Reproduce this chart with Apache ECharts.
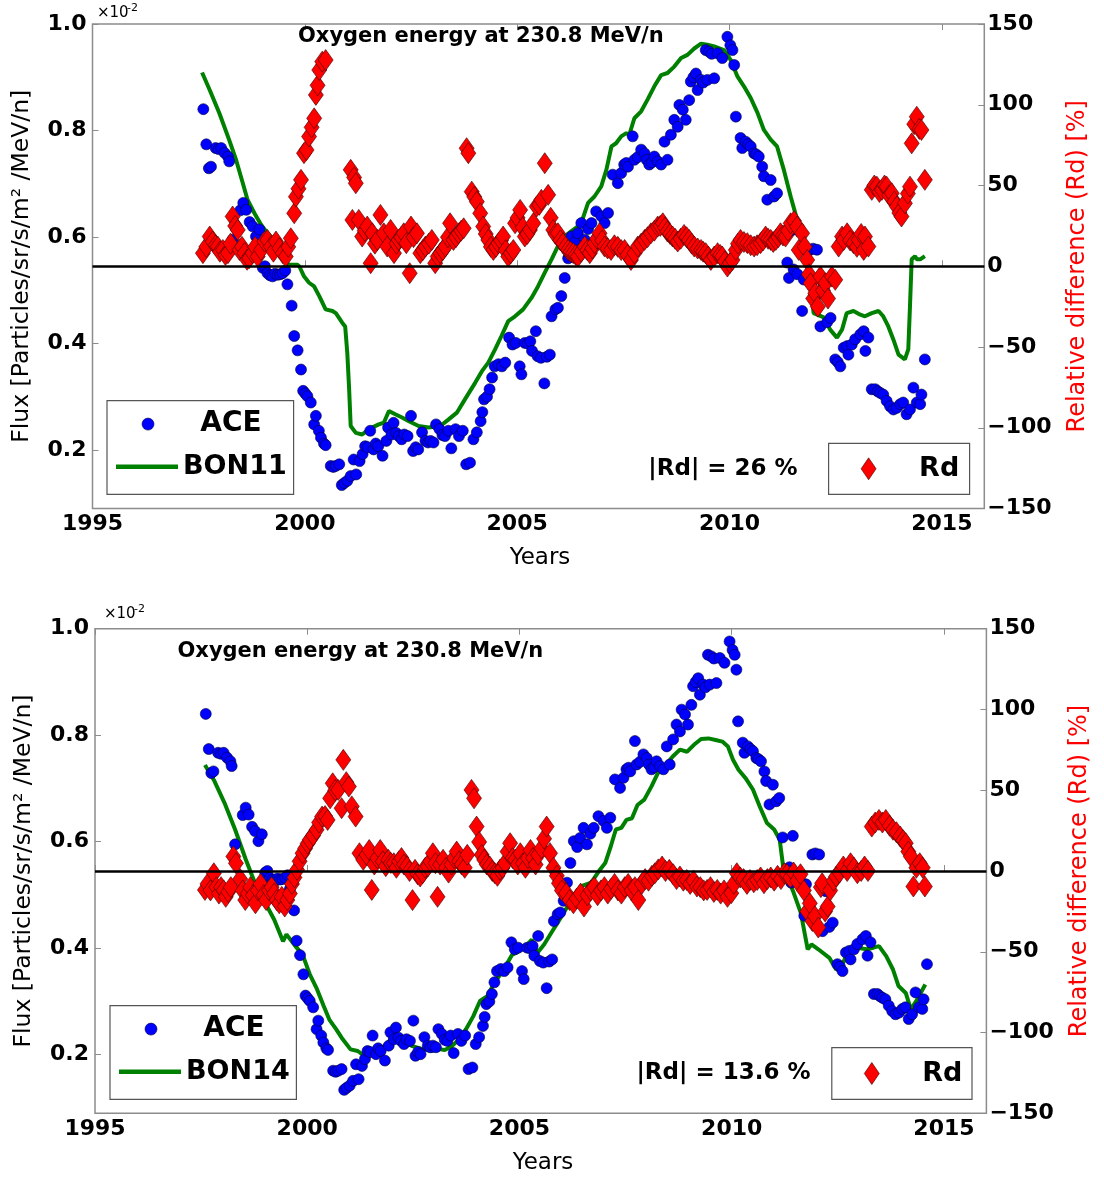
<!DOCTYPE html>
<html><head><meta charset="utf-8">
<script src="https://cdn.jsdelivr.net/npm/echarts@6/dist/echarts.min.js"></script>
<style>html,body{margin:0;padding:0;background:#fff}#c{width:1104px;height:1177px}</style>
</head><body><div id="c"></div>
<script>
// ---------------- DATA ----------------
const xTicks = [1995, 2000, 2005, 2010, 2015];
const fluxTicks = [0.2, 0.4, 0.6, 0.8, 1.0];
const rdTicks = [-150, -100, -50, 0, 50, 100, 150];

// ACE observed flux (x10^-2), same in both panels
const aceData = [
[1997.61,0.840],[1997.68,0.774],[1997.74,0.729],[1997.79,0.732],[1997.90,0.767],[1997.97,0.765],[1998.03,0.767],[1998.11,0.758],[1998.19,0.751],[1998.22,0.742],
[1998.30,0.595],[1998.48,0.650],[1998.55,0.664],[1998.62,0.651],[1998.70,0.628],[1998.77,0.620],[1998.85,0.601],[1998.93,0.614],[1999.01,0.542],[1999.06,0.545],
[1999.12,0.532],[1999.18,0.528],[1999.24,0.526],[1999.30,0.531],[1999.36,0.529],[1999.42,0.530],[1999.48,0.532],[1999.54,0.537],[1999.59,0.511],[1999.69,0.471],
[1999.75,0.414],[1999.83,0.387],[1999.91,0.351],[1999.96,0.311],[2000.01,0.306],[2000.06,0.301],[2000.14,0.289],[2000.22,0.248],[2000.26,0.264],[2000.33,0.236],
[2000.38,0.223],[2000.45,0.212],[2000.49,0.209],[2000.61,0.170],[2000.67,0.168],[2000.73,0.170],[2000.81,0.173],[2000.87,0.134],[2000.93,0.138],[2001.00,0.142],
[2001.08,0.151],[2001.15,0.182],[2001.21,0.154],[2001.29,0.179],[2001.36,0.192],[2001.42,0.207],[2001.48,0.205],[2001.54,0.236],[2001.62,0.201],[2001.67,0.212],
[2001.73,0.207],[2001.83,0.189],[2001.92,0.217],[2001.96,0.242],[2002.04,0.229],[2002.09,0.251],[2002.15,0.232],[2002.21,0.226],[2002.28,0.220],[2002.34,0.229],
[2002.42,0.226],[2002.50,0.264],[2002.55,0.198],[2002.61,0.205],[2002.67,0.201],[2002.76,0.233],[2002.84,0.217],[2002.90,0.214],[2002.96,0.217],[2003.03,0.214],
[2003.09,0.248],[2003.17,0.239],[2003.24,0.228],[2003.30,0.226],[2003.38,0.236],[2003.45,0.203],[2003.55,0.239],[2003.63,0.226],[2003.72,0.236],[2003.80,0.173],
[2003.89,0.176],[2003.97,0.220],[2004.05,0.233],[2004.14,0.254],[2004.18,0.271],[2004.22,0.295],[2004.29,0.300],[2004.35,0.314],[2004.41,0.336],[2004.47,0.357],
[2004.56,0.361],[2004.64,0.357],[2004.72,0.364],[2004.81,0.411],[2004.89,0.398],[2004.97,0.401],[2005.06,0.357],[2005.10,0.342],[2005.18,0.401],[2005.25,0.400],
[2005.31,0.404],[2005.35,0.386],[2005.44,0.423],[2005.48,0.376],[2005.56,0.373],[2005.64,0.325],[2005.70,0.375],[2005.77,0.379],[2005.81,0.451],[2005.90,0.464],
[2005.96,0.467],[2006.04,0.489],[2006.12,0.523],[2006.20,0.560],[2006.28,0.601],[2006.36,0.590],[2006.43,0.607],[2006.51,0.626],[2006.59,0.595],[2006.67,0.615],
[2006.75,0.626],[2006.86,0.648],[2006.98,0.639],[2007.06,0.626],[2007.14,0.645],[2007.25,0.717],[2007.37,0.701],[2007.45,0.720],[2007.52,0.736],[2007.57,0.739],
[2007.61,0.732],[2007.72,0.789],[2007.76,0.745],[2007.84,0.750],[2007.92,0.764],[2008.00,0.757],[2008.05,0.745],[2008.11,0.736],[2008.17,0.740],[2008.23,0.751],
[2008.31,0.742],[2008.39,0.736],[2008.47,0.779],[2008.54,0.745],[2008.62,0.792],[2008.70,0.820],[2008.78,0.807],[2008.82,0.848],[2008.90,0.839],[2008.97,0.820],
[2009.05,0.857],[2009.09,0.892],[2009.15,0.900],[2009.21,0.907],[2009.25,0.876],[2009.33,0.895],[2009.38,0.890],[2009.44,0.951],[2009.48,0.895],[2009.52,0.948],
[2009.58,0.944],[2009.64,0.898],[2009.72,0.945],[2009.83,0.936],[2009.95,0.976],[2010.02,0.960],[2010.07,0.951],[2010.11,0.923],[2010.15,0.826],[2010.26,0.786],
[2010.30,0.767],[2010.38,0.779],[2010.44,0.774],[2010.50,0.770],[2010.58,0.757],[2010.63,0.755],[2010.69,0.751],[2010.77,0.732],[2010.81,0.714],[2010.89,0.670],
[2010.97,0.707],[2011.05,0.676],[2011.12,0.682],[2011.20,0.608],[2011.36,0.552],[2011.40,0.523],[2011.44,0.611],[2011.51,0.539],[2011.60,0.530],[2011.71,0.461],
[2011.75,0.520],[2011.90,0.576],[2011.97,0.578],[2012.06,0.576],[2012.14,0.432],[2012.22,0.507],[2012.30,0.440],[2012.38,0.448],[2012.49,0.370],[2012.55,0.365],
[2012.61,0.357],[2012.69,0.392],[2012.77,0.395],[2012.80,0.379],[2012.88,0.398],[2012.96,0.408],[2013.08,0.417],[2013.16,0.423],[2013.20,0.386],[2013.27,0.411],
[2013.35,0.314],[2013.43,0.314],[2013.49,0.310],[2013.55,0.307],[2013.62,0.304],[2013.70,0.292],[2013.78,0.282],[2013.86,0.276],[2013.94,0.279],[2014.02,0.286],
[2014.09,0.289],[2014.17,0.267],[2014.25,0.276],[2014.33,0.317],[2014.41,0.289],[2014.49,0.286],[2014.52,0.304],[2014.60,0.370]
];

// BON11 model flux (top panel)
const bon11Data = [
[1997.58,0.909],[1997.76,0.876],[1997.99,0.832],[1998.22,0.782],[1998.38,0.745],[1998.54,0.701],[1998.65,0.670],[1998.81,0.645],[1998.97,0.623],[1999.12,0.607],
[1999.28,0.595],[1999.45,0.565],[1999.62,0.548],[1999.82,0.548],[1999.87,0.545],[1999.98,0.526],[2000.10,0.514],[2000.22,0.507],[2000.34,0.489],[2000.49,0.464],
[2000.65,0.461],[2000.73,0.457],[2000.88,0.439],[2000.95,0.432],[2001.00,0.382],[2001.04,0.320],[2001.08,0.245],[2001.20,0.232],[2001.35,0.229],[2001.51,0.239],
[2001.74,0.248],[2001.86,0.251],[2001.98,0.273],[2002.13,0.267],[2002.29,0.261],[2002.45,0.254],[2002.68,0.245],[2002.91,0.242],[2003.19,0.245],[2003.38,0.257],
[2003.58,0.270],[2003.77,0.295],[2004.01,0.326],[2004.17,0.348],[2004.32,0.364],[2004.48,0.389],[2004.63,0.414],[2004.79,0.442],[2004.95,0.451],[2005.14,0.464],
[2005.34,0.486],[2005.49,0.507],[2005.65,0.533],[2005.81,0.558],[2005.96,0.583],[2006.12,0.601],[2006.28,0.611],[2006.43,0.620],[2006.55,0.636],[2006.67,0.664],
[2006.82,0.676],[2006.98,0.695],[2007.10,0.726],[2007.22,0.770],[2007.33,0.776],[2007.45,0.789],[2007.57,0.795],[2007.64,0.792],[2007.76,0.823],[2007.92,0.836],
[2008.07,0.858],[2008.23,0.883],[2008.39,0.904],[2008.54,0.908],[2008.70,0.920],[2008.86,0.936],[2009.01,0.942],[2009.17,0.954],[2009.33,0.963],[2009.48,0.961],
[2009.64,0.958],[2009.87,0.951],[2010.03,0.932],[2010.19,0.901],[2010.34,0.883],[2010.50,0.861],[2010.66,0.833],[2010.81,0.801],[2010.97,0.783],[2011.12,0.770],
[2011.28,0.726],[2011.44,0.676],[2011.59,0.633],[2011.71,0.601],[2011.83,0.551],[2011.91,0.514],[2011.98,0.457],[2012.22,0.449],[2012.37,0.426],[2012.53,0.411],
[2012.65,0.426],[2012.76,0.457],[2012.92,0.461],[2013.08,0.454],[2013.19,0.451],[2013.35,0.457],[2013.51,0.461],[2013.62,0.451],[2013.74,0.432],[2013.86,0.407],
[2013.98,0.379],[2014.13,0.370],[2014.21,0.389],[2014.25,0.470],[2014.29,0.558],[2014.37,0.564],[2014.41,0.558],[2014.49,0.558],[2014.60,0.564]
];

// Relative difference ACE vs BON11 (%)
const rd11Data = [
[1997.60,8.1],[1997.68,12],[1997.76,18.4],[1997.83,15.3],[1997.90,13],[1997.95,12.2],[1998.00,9],[1998.07,10.1],[1998.13,7],[1998.19,8.1],
[1998.25,14],[1998.30,30.8],[1998.36,25],[1998.42,22.5],[1998.46,10.1],[1998.52,12],[1998.58,8.1],[1998.64,4],[1998.69,5.0],[1998.77,8.1],
[1998.83,12],[1998.89,6.0],[1998.97,10.1],[1999.05,15.3],[1999.12,16.3],[1999.20,12.2],[1999.26,9],[1999.32,15.3],[1999.40,11.2],[1999.48,8.1],
[1999.55,6.0],[1999.61,12],[1999.67,17.3],[1999.75,32.8],[1999.79,43.1],[1999.85,48],[1999.91,53.5],[1999.98,70.0],[2000.04,72],[2000.10,80.3],
[2000.16,86],[2000.22,91.6],[2000.26,106.1],[2000.30,112],[2000.34,121.5],[2000.41,126.7],[2000.49,127.7],[2000.58,172],[2000.66,176],[2000.74,171],
[2000.82,168],[2000.90,228],[2000.97,215],[2001.03,170],[2001.08,59.7],[2001.12,28.7],[2001.16,55],[2001.20,51.4],[2001.27,28.7],[2001.35,18.4],
[2001.41,22],[2001.47,24.6],[2001.55,1.9],[2001.59,20.4],[2001.65,14],[2001.71,16.3],[2001.78,31.8],[2001.86,20.4],[2001.94,12.2],[2002.02,22.5],
[2002.10,8.1],[2002.16,14],[2002.21,16.3],[2002.27,18],[2002.33,20.4],[2002.39,14.3],[2002.47,-4.3],[2002.50,24.6],[2002.56,18],[2002.64,20.4],
[2002.72,8.1],[2002.78,10],[2002.84,12.2],[2002.92,14],[2002.99,16.3],[2003.07,1.9],[2003.13,6],[2003.19,8.1],[2003.25,10],[2003.31,12.2],
[2003.37,18],[2003.42,26.6],[2003.50,16.3],[2003.56,18],[2003.62,20.4],[2003.68,22],[2003.74,23.5],[2003.81,73.1],[2003.85,70],[2003.93,46.2],
[2003.99,43],[2004.05,40.0],[2004.13,32.8],[2004.20,24.6],[2004.26,20],[2004.32,16.3],[2004.38,12],[2004.44,10.1],[2004.50,12],[2004.56,14.3],
[2004.62,16],[2004.67,18.4],[2004.73,10],[2004.79,6.0],[2004.85,8],[2004.91,10.1],[2004.95,26.6],[2005.01,30],[2005.07,34.9],[2005.13,24],
[2005.18,18.4],[2005.24,20],[2005.30,22.5],[2005.38,26.6],[2005.46,37.0],[2005.52,38],[2005.57,41.1],[2005.65,63.8],[2005.73,44.2],[2005.79,30],
[2005.85,22.5],[2005.90,20],[2005.96,20.4],[2006.02,16],[2006.08,14.3],[2006.14,12],[2006.20,10.1],[2006.26,9],[2006.32,8.1],[2006.38,7],
[2006.43,6.0],[2006.51,9],[2006.59,12.2],[2006.65,10],[2006.71,8.1],[2006.77,11],[2006.82,14.3],[2006.88,17],[2006.94,20.4],[2007.00,16],
[2007.06,12.2],[2007.13,11],[2007.21,10.1],[2007.29,13],[2007.37,12],[2007.45,10],[2007.53,10.1],[2007.60,7],[2007.68,3.9],[2007.76,8],
[2007.84,12.2],[2007.92,14],[2008.00,16.3],[2008.07,18],[2008.15,20.4],[2008.23,22],[2008.31,24.6],[2008.37,25],[2008.43,26.6],[2008.48,24],
[2008.54,21.5],[2008.60,20],[2008.66,18.4],[2008.72,17],[2008.78,15.3],[2008.85,17],[2008.93,19.4],[2008.99,18],[2009.05,16.3],[2009.11,14],
[2009.17,12.2],[2009.25,11],[2009.33,10.1],[2009.38,9],[2009.44,8.1],[2009.50,6],[2009.56,3.9],[2009.64,6],[2009.72,8.1],[2009.78,7],
[2009.83,6.0],[2009.89,3],[2009.95,-0.2],[2010.01,2],[2010.07,3.9],[2010.15,10.1],[2010.20,14],[2010.26,16.3],[2010.34,15],[2010.42,14.3],
[2010.50,13],[2010.58,12.2],[2010.65,13],[2010.73,14.3],[2010.79,16],[2010.85,18.4],[2010.91,17],[2010.97,16.3],[2011.03,15],[2011.09,16.3],
[2011.15,18],[2011.20,20.4],[2011.26,19],[2011.32,18.4],[2011.38,22],[2011.44,26.6],[2011.52,28],[2011.59,24.6],[2011.63,10.1],[2011.71,20.4],
[2011.77,12],[2011.83,3.9],[2011.87,-5],[2011.91,-10.5],[2011.97,-20],[2012.02,-16.7],[2012.08,-25],[2012.14,-6.4],[2012.20,-15],[2012.26,-10.5],
[2012.32,-20],[2012.41,-6.4],[2012.49,-8.4],[2012.57,12.2],[2012.65,18.4],[2012.69,16.3],[2012.77,20.4],[2012.84,16],[2012.92,14.3],[2013.00,12],
[2013.04,16.3],[2013.10,20],[2013.16,10.1],[2013.19,18.4],[2013.27,12.2],[2013.35,47.3],[2013.41,50],[2013.47,49.3],[2013.53,46],[2013.59,47.3],
[2013.65,50],[2013.70,49.3],[2013.76,44],[2013.82,45.2],[2013.88,40],[2013.94,37.0],[2014.00,33],[2014.05,30.8],[2014.13,39.0],[2014.20,45],
[2014.25,49.3],[2014.29,76.1],[2014.35,88],[2014.41,92.6],[2014.47,85],[2014.52,84.4],[2014.60,53.5]
];

// BON14 model flux (bottom panel)
const bon14Data = [
[1997.59,0.744],[1997.80,0.716],[1998.05,0.673],[1998.30,0.623],[1998.55,0.567],[1998.80,0.516],[1998.97,0.491],[1999.22,0.454],[1999.43,0.413],[1999.51,0.426],
[1999.72,0.404],[1999.89,0.388],[2000.06,0.351],[2000.23,0.323],[2000.39,0.291],[2000.52,0.266],[2000.68,0.248],[2000.81,0.232],[2001.02,0.210],[2001.19,0.207],
[2001.36,0.197],[2001.56,0.207],[2001.81,0.216],[2001.94,0.226],[2002.02,0.235],[2002.23,0.226],[2002.48,0.216],[2002.74,0.210],[2002.94,0.207],[2003.07,0.211],
[2003.24,0.209],[2003.41,0.216],[2003.57,0.229],[2003.74,0.248],[2003.91,0.272],[2004.07,0.301],[2004.24,0.310],[2004.41,0.335],[2004.58,0.354],[2004.83,0.388],
[2005.08,0.398],[2005.29,0.416],[2005.42,0.391],[2005.58,0.407],[2005.75,0.429],[2005.90,0.448],[2006.06,0.469],[2006.23,0.491],[2006.44,0.516],[2006.69,0.523],
[2006.90,0.548],[2007.02,0.560],[2007.15,0.591],[2007.27,0.623],[2007.40,0.626],[2007.52,0.641],[2007.65,0.644],[2007.78,0.669],[2007.94,0.679],[2008.11,0.704],
[2008.28,0.732],[2008.45,0.744],[2008.61,0.760],[2008.78,0.773],[2008.95,0.769],[2009.11,0.782],[2009.28,0.793],[2009.45,0.794],[2009.62,0.791],[2009.78,0.788],
[2009.91,0.779],[2010.03,0.754],[2010.16,0.735],[2010.33,0.719],[2010.50,0.698],[2010.66,0.666],[2010.83,0.635],[2011.00,0.623],[2011.13,0.604],[2011.21,0.554],
[2011.46,0.504],[2011.63,0.466],[2011.79,0.398],[2011.88,0.407],[2012.04,0.398],[2012.30,0.382],[2012.46,0.360],[2012.59,0.366],[2012.76,0.398],[2012.96,0.401],
[2013.18,0.398],[2013.34,0.401],[2013.47,0.404],[2013.64,0.385],[2013.80,0.360],[2013.93,0.329],[2014.10,0.316],[2014.22,0.285],[2014.35,0.301],[2014.56,0.332]
];

// Relative difference ACE vs BON14 (%)
const rd14Data = [
[1997.59,-11.7],[1997.65,-8],[1997.72,-12],[1997.80,-1.4],[1997.86,-10],[1997.92,-14],[1997.97,-10],[1998.03,-12],[1998.08,-16],[1998.14,-13],
[1998.20,-10],[1998.26,9],[1998.32,4.8],[1998.42,-5],[1998.48,-12],[1998.54,-18],[1998.60,-14],[1998.66,-10],[1998.72,-15],[1998.78,-20],
[1998.84,-12],[1998.90,-8],[1998.97,-15],[1999.03,-18],[1999.10,-12],[1999.16,-10],[1999.22,-14],[1999.28,-18],[1999.34,-20],[1999.40,-16],
[1999.47,-22],[1999.53,-18],[1999.59,-14],[1999.64,-8],[1999.70,-4],[1999.76,0.7],[1999.82,6],[1999.89,11],[1999.95,14],[2000.01,17],
[2000.06,19.3],[2000.14,22],[2000.22,25.5],[2000.28,30],[2000.35,33.7],[2000.42,34],[2000.48,31.6],[2000.54,45],[2000.60,54.3],[2000.66,50],
[2000.73,50.2],[2000.81,38.9],[2000.85,68.8],[2000.92,55],[2000.98,52.3],[2001.05,40],[2001.14,33.7],[2001.23,11],[2001.32,6.9],[2001.40,10],
[2001.46,13],[2001.52,-11.7],[2001.58,4],[2001.65,8],[2001.72,13],[2001.78,6],[2001.85,3],[2001.91,6.9],[2001.97,5],[2002.04,4.8],
[2002.10,2],[2002.16,6],[2002.22,8],[2002.28,4],[2002.35,2.8],[2002.41,0],[2002.48,-18],[2002.54,0.7],[2002.60,-2],[2002.66,-3.4],
[2002.72,-1.4],[2002.78,2],[2002.84,2.8],[2002.90,6],[2002.96,11],[2003.02,4.8],[2003.07,-16],[2003.13,4],[2003.20,6.9],[2003.27,2],
[2003.33,-1],[2003.40,4],[2003.46,8],[2003.52,12],[2003.58,6],[2003.64,4],[2003.71,2],[2003.77,10],[2003.87,50.2],[2003.93,45],
[2003.99,27.5],[2004.05,18],[2004.11,10],[2004.17,6.9],[2004.23,4],[2004.30,2.8],[2004.36,0],[2004.42,-1.4],[2004.48,-3],[2004.54,0.7],
[2004.60,2],[2004.66,4.8],[2004.72,12],[2004.78,17.2],[2004.84,8],[2004.90,6.9],[2004.96,4],[2005.02,11],[2005.08,4.8],[2005.14,2],
[2005.20,8],[2005.26,13],[2005.32,8],[2005.38,4],[2005.44,10],[2005.52,14],[2005.58,20],[2005.64,27.5],[2005.72,11],[2005.80,2],
[2005.88,-3],[2005.93,-7.6],[2006.00,-12],[2006.10,-13.7],[2006.18,-18],[2006.27,-20],[2006.35,-17],[2006.44,-14],[2006.52,-22],[2006.60,-15],
[2006.68,-12],[2006.76,-10],[2006.84,-15],[2006.92,-12],[2007.00,-10],[2007.08,-14],[2007.16,-11],[2007.24,-8],[2007.32,-12],[2007.40,-14],
[2007.48,-10],[2007.56,-8],[2007.64,-12],[2007.72,-10],[2007.80,-18],[2007.88,-8],[2007.96,-5],[2008.04,-6],[2008.12,-3],[2008.19,-1.4],
[2008.27,1],[2008.36,2.8],[2008.44,0],[2008.53,0.7],[2008.62,-2],[2008.70,-5],[2008.78,-3.4],[2008.86,-6],[2008.94,-5.6],[2009.02,-8],
[2009.10,-6],[2009.18,-9.6],[2009.26,-10],[2009.34,-12],[2009.42,-11.7],[2009.50,-10],[2009.58,-13],[2009.66,-11.7],[2009.74,-14],[2009.82,-12],
[2009.90,-16],[2009.99,-13.7],[2010.05,-8],[2010.12,-1.4],[2010.20,-4],[2010.28,-5],[2010.36,-8],[2010.43,-5.6],[2010.52,-7],[2010.60,-5.6],
[2010.68,-4],[2010.76,-7.6],[2010.84,-5],[2010.92,-4],[2011.00,-6],[2011.08,-3],[2011.16,-5],[2011.24,-1.4],[2011.30,-2],[2011.38,-4],
[2011.46,-1],[2011.54,-6],[2011.62,-2],[2011.70,-12],[2011.78,-25],[2011.84,-20],[2011.90,-31],[2011.96,-28],[2012.04,-35],[2012.10,-10],
[2012.13,-7.6],[2012.20,-25],[2012.26,-22],[2012.32,-12],[2012.40,-6],[2012.46,-3.4],[2012.54,-1],[2012.63,2.8],[2012.72,0],[2012.80,4.8],
[2012.88,2],[2012.96,-1.4],[2013.05,0],[2013.13,2.8],[2013.21,0],[2013.30,27.5],[2013.38,30],[2013.47,31.6],[2013.55,30],[2013.63,31.6],
[2013.72,28],[2013.80,25.5],[2013.88,24],[2013.97,21.3],[2014.04,19],[2014.10,17.2],[2014.16,12],[2014.22,9],[2014.28,-9.6],[2014.35,2],
[2014.43,4.8],[2014.50,2],[2014.55,-9.6]
];

const panelTitle = 'Oxygen energy at 230.8 MeV/n';
const modelNames = ['BON11', 'BON14'];
const meanRd = ['|Rd| = 26 %', '|Rd| = 13.6 %'];

// ---------------- LAYOUT ----------------
const FONT = 'DejaVu Sans';
const panels = [
  {left: 92.5, top: 24, right: 984.3, bottom: 508.5,
   titleX: 298, titleY: 37, expX: 97, expY: 13,
   leg1: {x:107, y:400.7, w:186.6, h:93.6}, leg2: {x:828.6, y:443.3, w:141, h:51},
   rdX: 723, yNameX: 22, y2NameX: 1078, xNameX: 540, xNameY: 558},
  {left: 95, top: 628.7, right: 986.4, bottom: 1113.3,
   titleX: 177.5, titleY: 652, expX: 104, expY: 614,
   leg1: {x:110, y:1005.7, w:186.4, h:93.6}, leg2: {x:831.8, y:1047.7, w:140.2, h:51.6},
   rdX: 723.5, yNameX: 24, y2NameX: 1080, xNameX: 543, xNameY: 1163}
];
const modelData = [bon11Data, bon14Data];
const rdData = [rd11Data, rd14Data];

const grids = [], xAxes = [], yAxes = [], series = [], graphics = [];
const lab = {fontFamily: FONT, fontWeight: 'bold', fontSize: 22, color: '#000'};
const frameColor = '#8c8c8c';

panels.forEach((p, i) => {
  grids.push({left: p.left, top: p.top, width: p.right - p.left, height: p.bottom - p.top,
    show: true, borderColor: frameColor, borderWidth: 1.5, backgroundColor: 'transparent',
    containLabel: false, outerBoundsMode: 'none'});
  xAxes.push({gridIndex: i, type: 'value', min: 1995, max: 2016, position: 'bottom',
    axisLine: {show: false}, splitLine: {show: false},
    axisTick: {show: true, inside: true, length: 6, customValues: xTicks, lineStyle: {color: frameColor, width: 1}},
    axisLabel: Object.assign({customValues: xTicks, margin: 5, formatter: v => String(Math.round(v))}, lab)});
  xAxes.push({gridIndex: i, type: 'value', min: 1995, max: 2016, position: 'top',
    axisLine: {show: false}, splitLine: {show: false},
    axisTick: {show: true, inside: true, length: 6, customValues: xTicks, lineStyle: {color: frameColor, width: 1}},
    axisLabel: {show: false}});
  yAxes.push({gridIndex: i, type: 'value', min: 0.09, max: 1.0, position: 'left',
    axisLine: {show: false}, splitLine: {show: false},
    axisTick: {show: true, inside: true, length: 6, customValues: fluxTicks, lineStyle: {color: frameColor, width: 1}},
    axisLabel: Object.assign({customValues: fluxTicks, margin: 6, formatter: v => v.toFixed(1)}, lab)});
  yAxes.push({gridIndex: i, type: 'value', min: -150, max: 150, position: 'right',
    axisLine: {show: false}, splitLine: {show: false},
    axisTick: {show: true, inside: true, length: 6, customValues: rdTicks, lineStyle: {color: frameColor, width: 1}},
    axisLabel: Object.assign({customValues: rdTicks, margin: 3, formatter: v => String(v).replace('-', '\u2212')}, lab)});

  series.push({name: modelNames[i], type: 'line', xAxisIndex: 2*i, yAxisIndex: 2*i, data: modelData[i],
    showSymbol: false, symbol: 'none', z: 2, lineStyle: {color: '#008000', width: 4}, itemStyle: {color: '#008000'},
    silent: true, animation: false});
  series.push({name: 'ACE', type: 'scatter', xAxisIndex: 2*i, yAxisIndex: 2*i, data: aceData,
    symbol: 'circle', symbolSize: 11, z: 3,
    itemStyle: {color: '#0000ff', borderColor: '#00003a', borderWidth: 0.6, opacity: 1},
    silent: true, animation: false});
  series.push({name: 'Rd', type: 'scatter', xAxisIndex: 2*i, yAxisIndex: 2*i + 1, data: rdData[i],
    symbol: 'diamond', symbolSize: [15, 21], z: 4, clip: true,
    itemStyle: {color: '#ff0000', borderColor: '#3a0000', borderWidth: 0.6, opacity: 1},
    markLine: {silent: true, symbol: 'none', label: {show: false}, animation: false,
      lineStyle: {color: '#000', width: 2.5, type: 'solid'}, data: [{yAxis: 0}]},
    silent: true, animation: false});

  graphics.push({type: 'text', x: p.titleX, y: p.titleY, z: 10,
    style: {text: panelTitle, font: 'bold 21px ' + FONT, fill: '#000', align: 'left', verticalAlign: 'middle'}});
  graphics.push({type: 'text', x: p.expX, y: p.expY, z: 10,
    style: {text: '\u00d710', font: '15px ' + FONT, fill: '#000', align: 'left', verticalAlign: 'middle'}});
  graphics.push({type: 'text', x: p.expX + 30, y: p.expY - 5, z: 10,
    style: {text: '-2', font: '11px ' + FONT, fill: '#000', align: 'left', verticalAlign: 'middle'}});
  graphics.push({type: 'text', x: p.yNameX, y: (p.top + p.bottom) / 2, rotation: Math.PI / 2, z: 10,
    style: {text: 'Flux [Particles/sr/s/m\u00b2 /MeV/n]', font: '23.5px ' + FONT, fill: '#000', align: 'center', verticalAlign: 'middle'}});
  graphics.push({type: 'text', x: p.y2NameX, y: (p.top + p.bottom) / 2, rotation: Math.PI / 2, z: 10,
    style: {text: 'Relative difference (Rd) [%]', font: '24px ' + FONT, fill: '#ff0000', align: 'center', verticalAlign: 'middle'}});
  graphics.push({type: 'text', x: p.xNameX, y: p.xNameY, z: 10,
    style: {text: 'Years', font: '23px ' + FONT, fill: '#000', align: 'center', verticalAlign: 'middle'}});
  graphics.push({type: 'text', x: p.rdX, y: p.leg2.y + p.leg2.h / 2, z: 10,
    style: {text: meanRd[i], font: 'bold 23px ' + FONT, fill: '#000', align: 'center', verticalAlign: 'middle'}});

  const L = p.leg1;
  const r1 = L.y + L.h * 0.25, r2 = L.y + L.h * 0.705;
  graphics.push({type: 'rect', z: 20, shape: {x: L.x, y: L.y, width: L.w, height: L.h},
    style: {fill: '#fff', stroke: '#555', lineWidth: 1.2}});
  graphics.push({type: 'circle', z: 21, shape: {cx: L.x + 41, cy: r1, r: 6}, style: {fill: '#0000ff', stroke: '#00003a', lineWidth: 0.6}});
  graphics.push({type: 'text', z: 21, x: L.x + 124, y: r1,
    style: {text: 'ACE', font: 'bold 28px ' + FONT, fill: '#000', align: 'center', verticalAlign: 'middle'}});
  graphics.push({type: 'line', z: 21, shape: {x1: L.x + 9, y1: r2, x2: L.x + 71, y2: r2}, style: {stroke: '#008000', lineWidth: 4.5}});
  graphics.push({type: 'text', z: 21, x: L.x + 76, y: r2,
    style: {text: modelNames[i], font: 'bold 27px ' + FONT, fill: '#000', align: 'left', verticalAlign: 'middle'}});

  const R = p.leg2;
  const cy = R.y + R.h / 2, cx = R.x + 40;
  graphics.push({type: 'rect', z: 20, shape: {x: R.x, y: R.y, width: R.w, height: R.h},
    style: {fill: '#fff', stroke: '#555', lineWidth: 1.2}});
  graphics.push({type: 'polygon', z: 21, shape: {points: [[cx, cy - 11], [cx + 7.5, cy], [cx, cy + 11], [cx - 7.5, cy]]},
    style: {fill: '#ff0000', stroke: '#3a0000', lineWidth: 0.6}});
  graphics.push({type: 'text', z: 21, x: R.x + 90.5, y: cy,
    style: {text: 'Rd', font: 'bold 27px ' + FONT, fill: '#000', align: 'left', verticalAlign: 'middle'}});
});

const chart = echarts.init(document.getElementById('c'), null, {renderer: 'canvas'});
chart.setOption({
  animation: false,
  backgroundColor: '#fff',
  grid: grids, xAxis: xAxes, yAxis: yAxes, series: series, graphic: graphics
});
</script></body></html>
